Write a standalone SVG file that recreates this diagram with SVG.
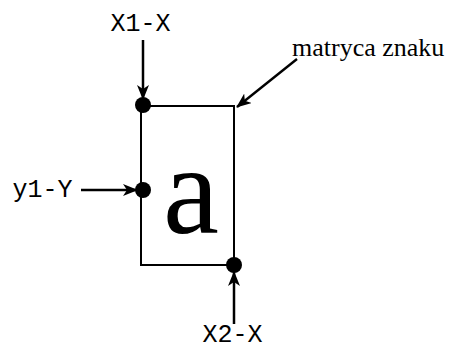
<svg xmlns="http://www.w3.org/2000/svg" width="450" height="350" viewBox="0 0 450 350">
  <style>
    .conn { stroke: #000; stroke-width: 2.5; fill: none; marker-end: url(#ah); }
    .box { stroke: #000; stroke-width: 2; fill: #fff; }
    .dot { fill: #000; }
  </style>
  <defs>
    <marker id="ah" markerUnits="userSpaceOnUse" markerWidth="15" markerHeight="12" refX="14" refY="6" orient="auto">
      <path d="M0,0 L15,6 L0,12 L4,6 z" fill="#000"/>
    </marker>
  </defs>
  <rect width="450" height="350" fill="#fff"/>
  <g id="matrix">
    <rect class="box" x="141" y="106" width="93" height="159"/>
    <text x="191" y="233" font-family="'Liberation Serif', 'Times New Roman', serif" font-size="126" text-anchor="middle" fill="#000">a</text>
  </g>
  <g id="dots">
    <circle class="dot" cx="143" cy="105" r="8"/>
    <circle class="dot" cx="143" cy="190" r="8"/>
    <circle class="dot" cx="234" cy="265" r="8"/>
  </g>
  <g id="labels" font-family="'Liberation Mono', 'Courier New', monospace" font-size="25" fill="#000">
    <text x="140.5" y="31" text-anchor="middle">X1-X</text>
    <text x="42.5" y="197" text-anchor="middle">y1-Y</text>
    <text x="232.5" y="342" text-anchor="middle">X2-X</text>
  </g>
  <g id="label-matryca">
    <text x="292" y="56" font-family="'Liberation Serif', 'Times New Roman', serif" font-size="26" fill="#000">matryca znaku</text>
  </g>
  <g id="connectors">
    <line class="conn" x1="143" y1="40" x2="143" y2="99"/>
    <line class="conn" x1="81" y1="190" x2="137" y2="190"/>
    <line class="conn" x1="234" y1="324" x2="234" y2="272"/>
    <line class="conn" x1="297" y1="59" x2="237" y2="107"/>
  </g>
</svg>
